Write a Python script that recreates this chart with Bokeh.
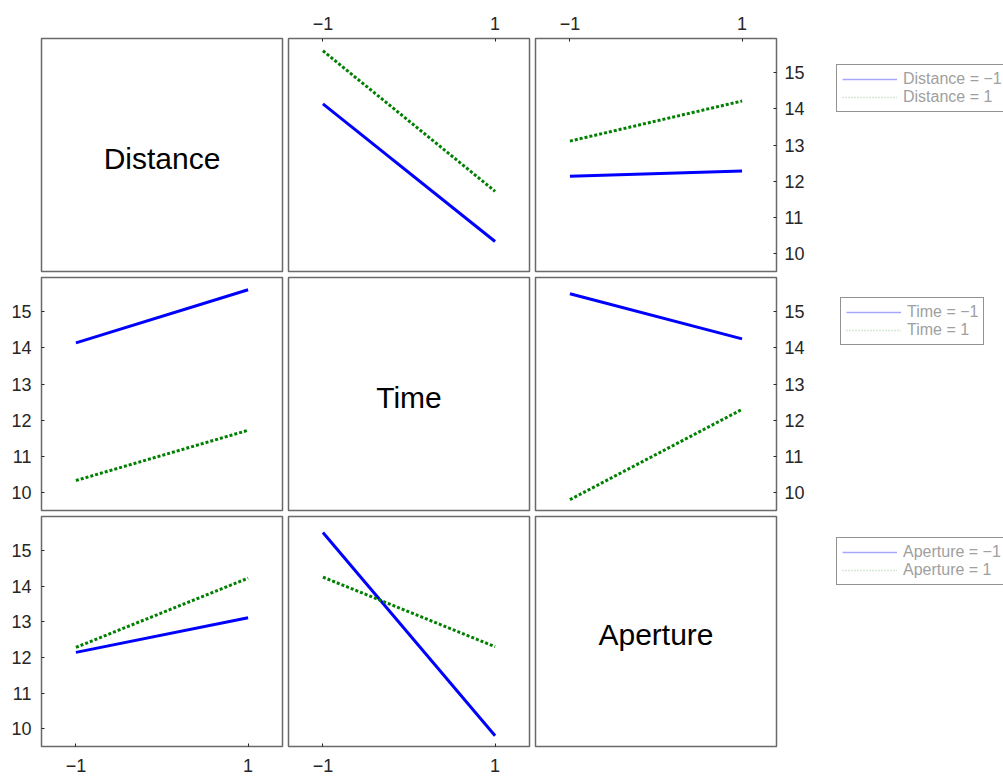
from bokeh.plotting import figure
from bokeh.layouts import column, row
from bokeh.models import LinearAxis, FixedTicker, Legend, LegendItem, Range1d
from bokeh.core.properties import value
from bokeh.embed import file_html
from bokeh.resources import INLINE

# ---------------- data ----------------
factors = ["Distance", "Time", "Aperture"]
levels = [-1, 1]
level_labels = {-1: "\u22121", 1: "1"}
y_ticks = [10, 11, 12, 13, 14, 15]

# mean response: [level of first factor][level of second factor]
means_distance_time = [[14.14, 10.33], [15.61, 11.72]]
means_distance_aperture = [[12.14, 12.28], [13.11, 14.22]]
means_time_aperture = [[15.50, 14.25], [9.80, 12.30]]

pair_means = {
    (0, 1): means_distance_time,
    (0, 2): means_distance_aperture,
    (1, 2): means_time_aperture,
}

x_lim = (-1.4, 1.4)
y_lim = (9.5, 15.95)

FONT = "Liberation Sans"
BLUE = "#0000ff"
GREEN = "#008000"
AX_COL = "#262626"

# ---------------- layout geometry ----------------
col_widths = [285, 247, 294, 177]
col_border = [(41, 3), (3, 3), (3, 50), (0, 0)]
row_heights = [274, 239, 266]
row_border = [(38, 3), (3, 3), (3, 33)]
# legend bottom-left corner, px from the legend panel's frame left / frame bottom
legend_loc = [(10, 159), (14, 165), (10, 161)]


def series(trace_f, x_f, trace_level_idx):
    if trace_f < x_f:
        m = pair_means[(trace_f, x_f)]
        return [m[trace_level_idx][k] for k in range(len(levels))]
    m = pair_means[(x_f, trace_f)]
    return [m[k][trace_level_idx] for k in range(len(levels))]


def add_axis(p, side):
    is_x = side in ("above", "below")
    ax = LinearAxis(ticker=FixedTicker(ticks=levels if is_x else y_ticks))
    ax.axis_line_color = None
    ax.major_tick_in = 3
    ax.major_tick_out = 0
    ax.major_tick_line_color = AX_COL
    ax.minor_tick_line_color = None
    if is_x:
        ax.major_label_overrides = level_labels
    ax.major_label_text_font = FONT
    ax.major_label_text_font_size = "18px"
    ax.major_label_text_color = AX_COL
    ax.major_label_standoff = {"left": 10, "right": 8, "above": 9, "below": 12}[side]
    p.add_layout(ax, side)


def base_figure(r, c, xr, yr):
    p = figure(
        width=col_widths[c], height=row_heights[r],
        x_range=xr, y_range=yr,
        output_backend="svg", toolbar_location=None,
        x_axis_location=None, y_axis_location=None,
        min_border_left=col_border[c][0], min_border_right=col_border[c][1],
        min_border_top=row_border[r][0], min_border_bottom=row_border[r][1],
    )
    p.grid.visible = False
    p.background_fill_color = "white"
    p.border_fill_color = "white"
    return p


rows = []
for r in range(3):
    figs = []
    for c in range(3):
        p = base_figure(r, c, Range1d(*x_lim), Range1d(*y_lim))
        p.outline_line_color = "#6a6a6a"
        p.outline_line_width = 1.5
        if r == c:
            xm = (x_lim[0] + x_lim[1]) / 2
            ym = (y_lim[0] + y_lim[1]) / 2
            p.text(x=[xm], y=[ym], text=[factors[r]], text_align="center",
                   text_baseline="middle", text_font=value(FONT),
                   text_font_size="30px", text_color="black", y_offset=3)
        else:
            p.line(levels, series(r, c, 0), line_color=BLUE, line_width=3)
            p.line(levels, series(r, c, 1), line_color=GREEN, line_width=3,
                   line_dash="3 2")
            if c == 0:
                add_axis(p, "left")
            if c == 2:
                add_axis(p, "right")
            if r == 0:
                add_axis(p, "above")
            if r == 2:
                add_axis(p, "below")
        figs.append(p)

    # legend panel: its ranges lie away from the data, so only the legend shows
    lp = base_figure(r, 3, Range1d(10, 11), Range1d(100, 101))
    lp.outline_line_color = None
    other = (r + 1) % 3
    lr1 = lp.line(levels, series(r, other, 0), line_color=BLUE, line_width=1.5,
                  line_alpha=0.35)
    lr2 = lp.line(levels, series(r, other, 1), line_color=GREEN, line_width=1.5,
                  line_alpha=0.35, line_dash="1 2")
    name = factors[r]
    leg = Legend(
        items=[LegendItem(label=f"{name} = {level_labels[levels[0]]}", renderers=[lr1]),
               LegendItem(label=f"{name} = {level_labels[levels[1]]}", renderers=[lr2])],
        location=legend_loc[r], margin=0, padding=5, spacing=0,
        glyph_width=55, glyph_height=18, label_height=18, label_standoff=6,
        label_text_font=FONT, label_text_font_size="16px",
        label_text_color="#a0a0a0",
        border_line_color="#262626", border_line_width=1,
        background_fill_color="white", background_fill_alpha=1,
    )
    lp.add_layout(leg)
    figs.append(lp)
    rows.append(row(*figs, spacing=0))

layout = column(*rows, spacing=0)

open("out.html", "w").write(file_html(layout, INLINE))
